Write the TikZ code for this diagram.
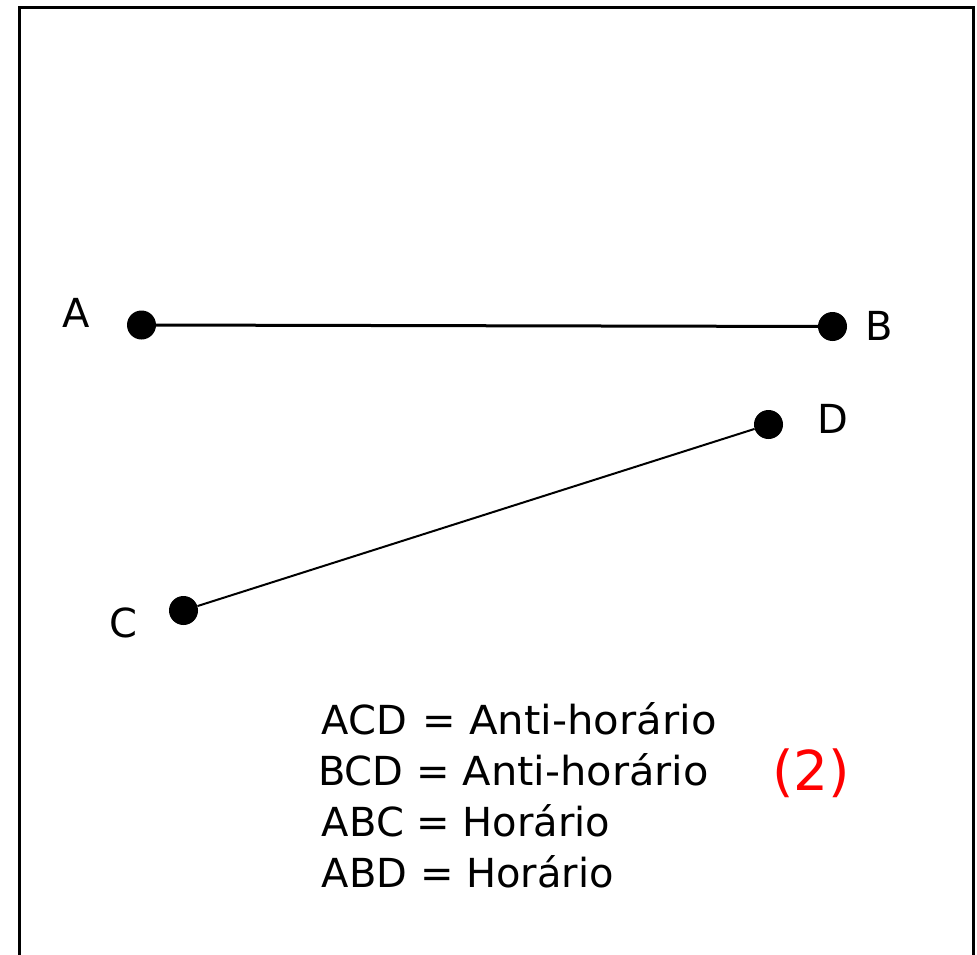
\documentclass[tikz,border=0pt]{standalone}
\usepackage{graphicx}
\usepackage{fontspec}
\setmainfont{DejaVu Sans}
\definecolor{markred}{RGB}{255,0,0}
\begin{document}
\begin{tikzpicture}[x=1pt,y=-1pt,
  dot/.style={circle,fill=black,draw=none,minimum size=29pt,inner sep=0pt},
  lbl/.style={anchor=base west,inner sep=0pt,font=\fontsize{40}{48}\selectfont},
  row/.style={anchor=base west,inner sep=0pt,font=\fontsize{40}{48}\selectfont},
  frame/.style={line width=3pt,line join=miter}]
\useasboundingbox (0,0) rectangle (977,955);
\draw[frame] (19.5,960) -- (19.5,7.5) -- (973.5,7.5) -- (973.5,960);
% points
\node[dot] (A) at (141.5,325) {};
\node[dot] (B) at (832.5,326.5) {};
\node[dot] (C) at (183.5,610.5) {};
\node[dot] (D) at (768.5,424.5) {};
\draw[line width=3pt] (A) -- (B);
\draw[line width=2pt] (C) -- (D);
% point labels
\node[lbl] (lA) at (62,327) {A};
\node[lbl] (lB) at (865,340) {B};
\node[lbl] (lC) at (109,637) {C};
\node[lbl] (lD) at (817,433) {D};
% list
\node[row] (r1) at (321.7,734) {ACD\hspace{3pt} = \scalebox{1.045}[1]{Anti-horário}};
\node[row] (r2) at (318,785) {BCD = \scalebox{1.04}[1]{Anti-horário}};
\node[row] (r3) at (321.7,836.5) {ABC = Horário};
\node[row] (r4) at (321.7,887) {ABD = Horário};
\node[anchor=base west,inner sep=0pt,text=markred,font=\fontsize{55}{64}\selectfont] (n2) at (772.3,790) {(2)};
\end{tikzpicture}
\end{document}
